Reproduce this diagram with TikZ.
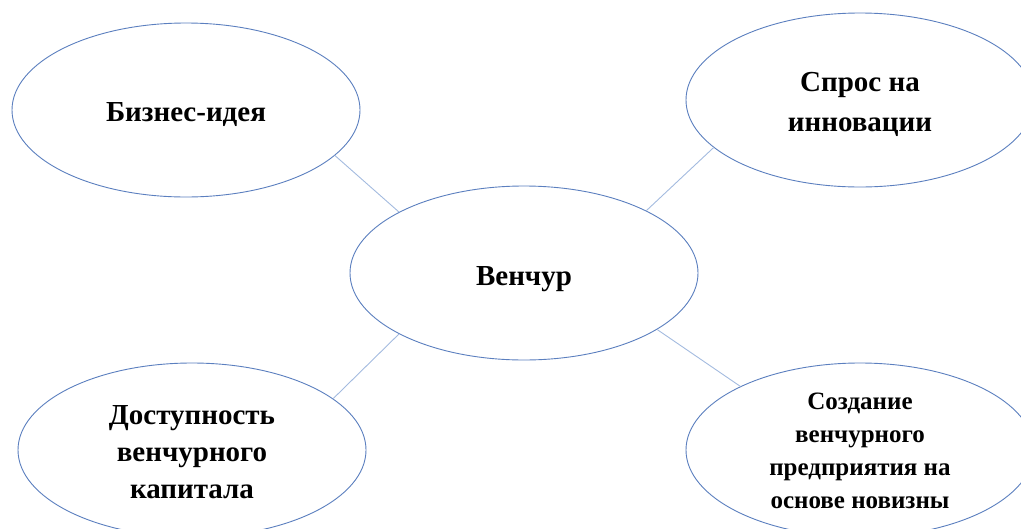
\documentclass[tikz,border=0pt]{standalone}
\usepackage{fontspec}
\setmainfont{Liberation Serif}
\usetikzlibrary{shapes.geometric}
\definecolor{rim}{HTML}{5B7FBF}
\definecolor{link}{HTML}{A3BBDF}
\tikzset{
  bubble/.style={ellipse, draw=rim, line width=0.9pt, fill=white, inner sep=0pt,
    minimum width=348pt, minimum height=174pt},
  txt/.style={inner sep=0pt, align=center, font=\fontsize{29}{37}\selectfont\bfseries},
  smalltext/.style={font=\fontsize{25}{33}\selectfont\bfseries},
  linkline/.style={draw=link, line width=0.9pt}
}
\begin{document}
\begin{tikzpicture}[x=1pt,y=-1pt]
\useasboundingbox (0,0) rectangle (1021,528);
\node[bubble] (tl) at (186,110) {};
\node[bubble] (tr) at (860,100) {};
\node[bubble] (c) at (524,273) {};
\node[bubble] (bl) at (192,450) {};
\node[bubble] (br) at (860,450) {};
\node[txt] (tlt) at ([yshift=-5pt]tl.center) {Бизнес-идея};
\node[txt, font=\fontsize{29}{40}\selectfont\bfseries] (trt) at ([yshift=-4pt]tr.center) {Спрос на\\инновации};
\node[txt] (ct) at ([yshift=-6pt]c.center) {Венчур};
\node[txt] (blt) at ([yshift=-2pt]bl.center) {Доступность\\венчурного\\капитала};
\node[txt, smalltext] (brt) at ([yshift=-1pt]br.center) {Создание\\венчурного\\предприятия на\\основе новизны};
\draw[linkline] (tl.-17) -- (c.154);
\draw[linkline] (tr.-162) -- (c.27);
\draw[linkline] (bl.20) -- (c.-154);
\draw[linkline] (br.152) -- (c.-23);
\end{tikzpicture}
\end{document}
